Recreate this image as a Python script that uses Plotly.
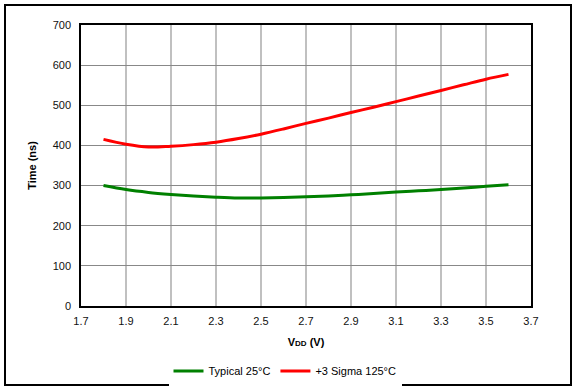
import plotly.graph_objects as go

vdd = [1.8, 1.9, 2.0, 2.1, 2.2, 2.3, 2.4, 2.5, 2.6, 2.7,
       2.8, 2.9, 3.0, 3.1, 3.2, 3.3, 3.4, 3.5, 3.6]
typical_25c = [300, 290, 283, 278, 274, 271, 269, 269, 270, 272,
               274, 277, 280, 284, 287, 290, 294, 298, 302]
sigma3_125c = [415, 403, 396, 398, 402, 408, 417, 428, 441, 455,
               468, 482, 495, 509, 523, 537, 551, 565, 577]

x_ticks = [1.7, 1.9, 2.1, 2.3, 2.5, 2.7, 2.9, 3.1, 3.3, 3.5, 3.7]
y_ticks = [0, 100, 200, 300, 400, 500, 600, 700]

W, H = 574, 389
L, R, T, B = 81, 43, 25, 83
pw, ph = W - L - R, H - T - B


def px_x(p):
    return (p - L) / pw


def px_y(p):
    return (H - B - p) / ph


fig = go.Figure()
fig.add_trace(go.Scatter(
    x=vdd, y=typical_25c, mode="lines", name="Typical 25°C",
    line=dict(color="#008000", width=3, shape="spline"),
))
fig.add_trace(go.Scatter(
    x=vdd, y=sigma3_125c, mode="lines", name="+3 Sigma 125°C",
    line=dict(color="#ff0000", width=3, shape="spline"),
))

# outer frame
fig.add_shape(
    type="rect", xref="paper", yref="paper",
    x0=px_x(5), x1=px_x(571), y0=px_y(385), y1=px_y(5),
    line=dict(color="black", width=2), layer="below",
)

fig.update_xaxes(
    range=[1.7, 3.7], tickvals=x_ticks, ticktext=[f"{v:.1f}" for v in x_ticks],
    showgrid=True, gridcolor="#c0c0c0", gridwidth=1.5,
    showline=True, linecolor="black", linewidth=1.5, mirror=True,
    ticks="outside", ticklen=4, tickcolor="rgba(0,0,0,0)", zeroline=False,
    automargin=False,
    title=dict(text="<b>V<span style='font-size:8px'>DD</span> (V)</b>",
               font=dict(size=11), standoff=12),
    tickfont=dict(size=11, color="#111"),
)
fig.update_yaxes(
    range=[0, 700], tickvals=y_ticks,
    showgrid=True, gridcolor="#888888", gridwidth=1,
    showline=True, linecolor="black", linewidth=1.5, mirror=True,
    ticks="outside", ticklen=6, tickcolor="rgba(0,0,0,0)", zeroline=False,
    automargin=False,
    title=dict(text="<b>Time (ns)</b>", font=dict(size=11), standoff=14),
    tickfont=dict(size=11, color="#111"),
)
fig.update_layout(
    width=W, height=H,
    margin=dict(l=L, r=R, t=T, b=B, autoexpand=False),
    paper_bgcolor="white", plot_bgcolor="white",
    font=dict(family="Liberation Sans, Arial, sans-serif", size=11, color="black"),
    legend=dict(orientation="h", x=px_x(285), xanchor="center",
                y=px_y(371), yanchor="middle", font=dict(size=11),
                itemwidth=30),
)

# the page body has a default 8px margin; drop it so the figure fills the window
fig.write_html("out.html", config={"displayModeBar": False},
               post_script="document.body.style.margin='0';")
